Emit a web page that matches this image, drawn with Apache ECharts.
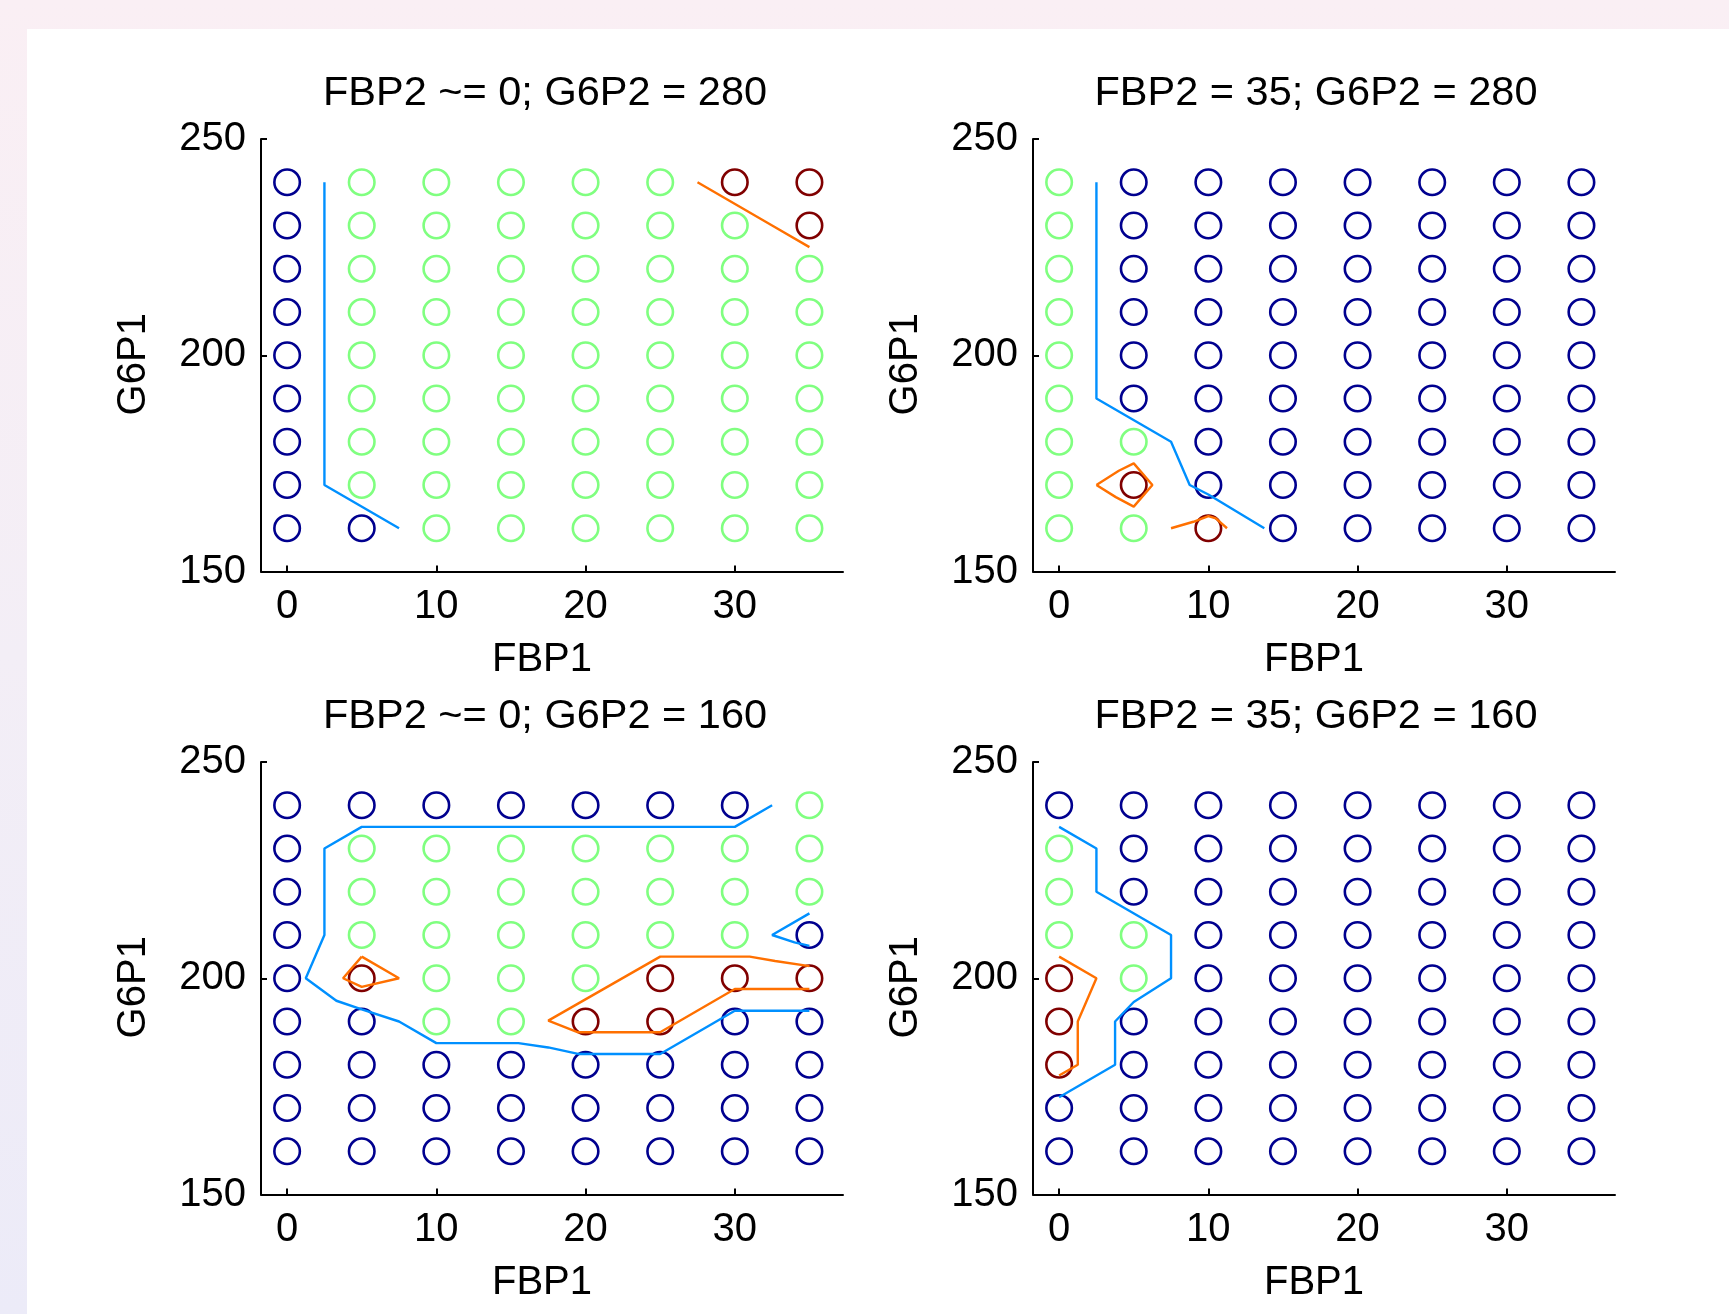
<!DOCTYPE html>
<html><head><meta charset="utf-8">
<script src="https://cdn.jsdelivr.net/npm/echarts@6/dist/echarts.min.js"></script>
<style>
html,body{margin:0;padding:0;width:1729px;height:1314px;overflow:hidden;background:linear-gradient(180deg,#faeff4 0%,#f3eef6 50%,#ecebf8 100%);}
#panel{position:absolute;left:27px;top:29px;right:0;bottom:0;background:#ffffff;}
#chart{position:absolute;left:0;top:0;width:1729px;height:1314px;}
</style></head><body><div id="panel"></div><div id="chart"></div>
<script>
// ---------- data ----------
const fbp1Values = [0, 5, 10, 15, 20, 25, 30, 35];
const g6p1Values = [240, 230, 220, 210, 200, 190, 180, 170, 160];
const xTickValues = [0, 10, 20, 30];
const panelTitles = ['FBP2 ~= 0; G6P2 = 280', 'FBP2 = 35; G6P2 = 280', 'FBP2 ~= 0; G6P2 = 160', 'FBP2 = 35; G6P2 = 160'];
const xAxisName = 'FBP1';
const yAxisName = 'G6P1';

// class of each grid point: rows = G6P1 240..160, columns = FBP1 0..35 (B = class 1, G = class 2, R = class 3)
const classesTL = ['BGGGGGRR', 'BGGGGGGR', 'BGGGGGGG', 'BGGGGGGG', 'BGGGGGGG', 'BGGGGGGG', 'BGGGGGGG', 'BGGGGGGG', 'BBGGGGGG'];
const classesTR = ['GBBBBBBB', 'GBBBBBBB', 'GBBBBBBB', 'GBBBBBBB', 'GBBBBBBB', 'GBBBBBBB', 'GGBBBBBB', 'GRBBBBBB', 'GGRBBBBB'];
const classesBL = ['BBBBBBBG', 'BGGGGGGG', 'BGGGGGGG', 'BGGGGGGB', 'BRGGGRRR', 'BBGGRRBB', 'BBBBBBBB', 'BBBBBBBB', 'BBBBBBBB'];
const classesBR = ['BBBBBBBB', 'GBBBBBBB', 'GBBBBBBB', 'GGBBBBBB', 'RGBBBBBB', 'RBBBBBBB', 'RBBBBBBB', 'BBBBBBBB', 'BBBBBBBB'];

// decision boundary contours [FBP1, G6P1]
const boundaryTL_12 = [[[2.5, 240], [2.5, 170], [7.5, 160]]];
const boundaryTL_23 = [[[27.5, 240], [32.5, 230], [35, 225]]];
const boundaryTR_12 = [[[2.5, 240], [2.5, 190], [7.5, 180], [8.75, 170], [10, 167.8], [13.75, 160]]];
const boundaryTR_23 = [
  [[2.5, 170], [4, 173.3], [5, 175], [6.25, 170], [5, 165], [3.8, 167.2], [2.5, 170]],
  [[7.5, 160], [9, 161.5], [10, 162.8], [10.5, 162.3], [11, 160.8], [11.25, 160]]
];
const boundaryBL_12 = [
  [[32.5, 240], [30, 235], [5, 235], [2.5, 230], [2.5, 210], [1.25, 200], [3.3, 194.8], [5, 192.8], [7.5, 190], [10, 185], [15.5, 185], [17.5, 184], [19.5, 182.5], [25, 182.5], [30, 192.5], [35, 192.5]],
  [[35, 215], [32.5, 210], [34, 208.3], [35, 207.5]]
];
const boundaryBL_23 = [
  [[5, 205], [7.5, 200], [5, 198], [3.75, 200], [5, 205]],
  [[35, 202.8], [32.7, 204], [31, 205], [25, 205], [17.5, 190.2], [19.5, 187.5], [25, 187.5], [30, 197.5], [35, 197.5]]
];
const boundaryBR_12 = [[[0, 235], [2.5, 230], [2.5, 220], [7.5, 210], [7.5, 200], [5, 194.5], [3.75, 190], [3.75, 180], [0, 172.5]]];
const boundaryBR_23 = [[[0, 205], [2.5, 200], [1.25, 190], [1.25, 180], [0, 177.5]]];

// ---------- styling ----------
const FONT = "'Liberation Sans', Arial, sans-serif";
const classColors = { B: '#00008f', G: '#80ff80', R: '#800000' };
const line12Color = '#0090ff';
const line23Color = '#ff7000';
const panels = [
  { classes: classesTL, b12: boundaryTL_12, b23: boundaryTL_23, left: 261, top: 139, cx: 545, cy: 93.5 },
  { classes: classesTR, b12: boundaryTR_12, b23: boundaryTR_23, left: 1033, top: 139, cx: 1316, cy: 93.5 },
  { classes: classesBL, b12: boundaryBL_12, b23: boundaryBL_23, left: 261, top: 762, cx: 545, cy: 716.5 },
  { classes: classesBR, b12: boundaryBR_12, b23: boundaryBR_23, left: 1033, top: 762, cx: 1316, cy: 716.5 }
];
const GW = 582, GH = 432.5;

const grid = [], xAxis = [], yAxis = [], series = [], title = [];
panels.forEach((p, i) => {
  grid.push({ left: p.left, top: p.top, width: GW, height: GH, containLabel: false });
  title.push({
    text: panelTitles[i], left: p.cx - 5, top: p.cy - 5, textAlign: 'center', textVerticalAlign: 'middle',
    textStyle: { fontFamily: FONT, fontSize: 41.5, fontWeight: 'normal', color: '#000' }
  });
  xAxis.push({
    type: 'value', gridIndex: i, min: -1.75, max: 37.25,
    name: xAxisName, nameLocation: 'middle', nameGap: 68,
    nameTextStyle: { fontFamily: FONT, fontSize: 40, color: '#000', padding: [0, 20, 0, 0] },
    axisLine: { show: true, onZero: false, lineStyle: { color: '#000', width: 2 } },
    axisTick: { show: true, inside: true, length: 6, customValues: xTickValues, lineStyle: { color: '#000', width: 2 } },
    axisLabel: { customValues: xTickValues, margin: 15, fontFamily: FONT, fontSize: 40, color: '#000' },
    splitLine: { show: false }
  });
  yAxis.push({
    type: 'value', gridIndex: i, min: 150, max: 250, interval: 50,
    name: yAxisName, nameLocation: 'middle', nameGap: 107,
    nameTextStyle: { fontFamily: FONT, fontSize: 40, color: '#000', padding: [0, 18, 0, 0] },
    axisLine: { show: true, onZero: false, lineStyle: { color: '#000', width: 2 } },
    axisTick: { show: true, inside: true, length: 6, lineStyle: { color: '#000', width: 2 } },
    axisLabel: { margin: 15, fontFamily: FONT, fontSize: 40, color: '#000' },
    splitLine: { show: false }
  });
  ['B', 'G', 'R'].forEach(c => {
    const data = [];
    p.classes.forEach((row, r) => {
      for (let k = 0; k < row.length; k++) if (row[k] === c) data.push([fbp1Values[k], g6p1Values[r]]);
    });
    series.push({
      type: 'scatter', xAxisIndex: i, yAxisIndex: i, data, symbol: 'circle', symbolSize: 25.5, z: 2,
      itemStyle: { color: 'rgba(0,0,0,0)', borderColor: classColors[c], borderWidth: 2.6, opacity: 1 },
      emphasis: { disabled: true }, silent: true
    });
  });
  [[p.b12, line12Color], [p.b23, line23Color]].forEach(([segs, col]) => {
    segs.forEach(seg => series.push({
      type: 'line', xAxisIndex: i, yAxisIndex: i, data: seg, showSymbol: false, symbol: 'none', z: 3,
      lineStyle: { color: col, width: 2.4 }, emphasis: { disabled: true }, silent: true
    }));
  });
});

const chart = echarts.init(document.getElementById('chart'), null, { renderer: 'canvas' });
chart.setOption({ animation: false, backgroundColor: 'transparent', title, grid, xAxis, yAxis, series });
</script></body></html>
